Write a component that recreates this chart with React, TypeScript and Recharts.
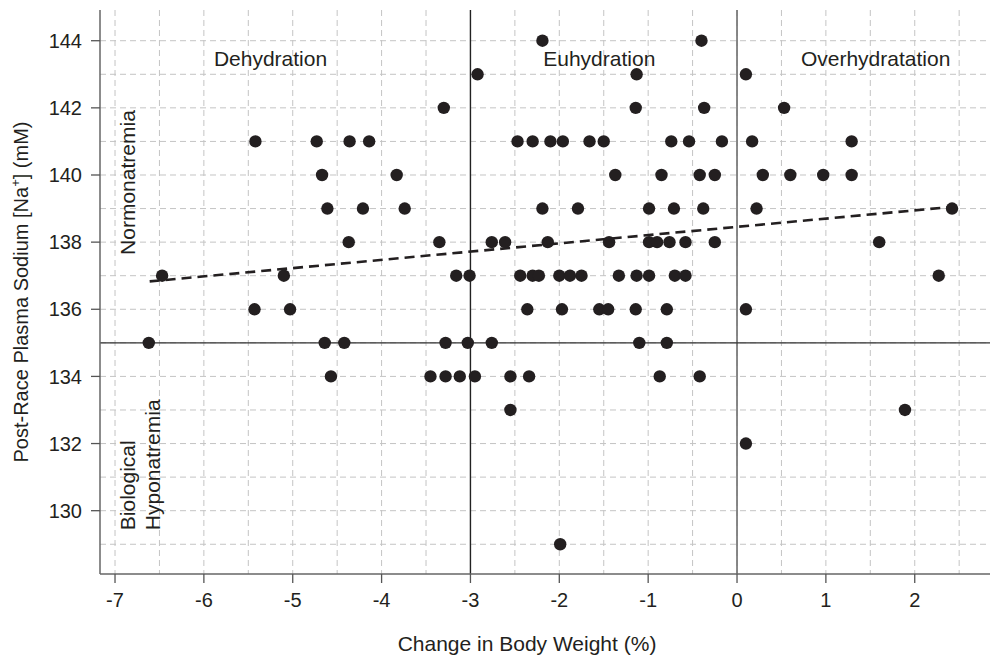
import {
  ScatterChart,
  Scatter,
  XAxis,
  YAxis,
  CartesianGrid,
  ReferenceLine,
  ReferenceDot,
} from "recharts";

// Change in body weight (%) and post-race plasma Na+ (mM), one entry per runner,
// grouped by sodium level
const weightChange = [
  -2.19, -0.4,
  -2.92, -1.13, 0.1,
  -3.3, -1.14, -0.37, 0.53,
  -5.42, -4.73, -4.36, -4.14, -2.47, -2.3, -2.1, -1.96, -1.66, -1.5, -0.74, -0.54, -0.17, 0.17, 1.29,
  -4.67, -3.83, -1.37, -0.85, -0.42, -0.25, 0.29, 0.6, 0.97, 1.29,
  -4.61, -4.21, -3.74, -2.19, -1.79, -0.99, -0.71, -0.38, 0.22, 2.42,
  -4.37, -3.35, -2.76, -2.61, -2.13, -1.44, -0.99, -0.9, -0.76, -0.58, -0.25, 1.6,
  -6.47, -5.1, -3.16, -3.01, -2.44, -2.3, -2.23, -2.0, -1.88, -1.75, -1.33, -1.13, -0.99, -0.7, -0.58, 2.27,
  -5.43, -5.03, -2.36, -1.97, -1.55, -1.45, -1.14, -0.79, 0.1,
  -6.62, -4.64, -4.42, -3.28, -3.03, -2.76, -1.1, -0.79,
  -4.57, -3.45, -3.28, -3.12, -2.95, -2.55, -2.34, -0.87, -0.42,
  -2.55, 1.89,
  0.1,
  -1.99,
];
const plasmaSodium = [
  144, 144,
  143, 143, 143,
  142, 142, 142, 142,
  141, 141, 141, 141, 141, 141, 141, 141, 141, 141, 141, 141, 141, 141, 141,
  140, 140, 140, 140, 140, 140, 140, 140, 140, 140,
  139, 139, 139, 139, 139, 139, 139, 139, 139, 139,
  138, 138, 138, 138, 138, 138, 138, 138, 138, 138, 138, 138,
  137, 137, 137, 137, 137, 137, 137, 137, 137, 137, 137, 137, 137, 137, 137, 137,
  136, 136, 136, 136, 136, 136, 136, 136, 136,
  135, 135, 135, 135, 135, 135, 135, 135,
  134, 134, 134, 134, 134, 134, 134, 134, 134,
  133, 133,
  132,
  129,
];

// regression line end points
const trendX = [-6.61, 2.42];
const trendY = [136.83, 139.05];

const xTicks = [-7, -6, -5, -4, -3, -2, -1, 0, 1, 2];
const yTicks = [130, 132, 134, 136, 138, 140, 142, 144];
const xGrid = [-7, -6.5, -6, -5.5, -5, -4.5, -4, -3.5, -3, -2.5, -2, -1.5, -1, -0.5, 0, 0.5, 1, 1.5, 2, 2.5];
const yGrid = [129, 130, 131, 132, 133, 134, 135, 136, 137, 138, 139, 140, 141, 142, 143, 144];

const INK = "#231f20";
const FONT = "'Liberation Sans', Arial, Helvetica, sans-serif";

const points = weightChange.map((x, i) => ({ x, y: plasmaSodium[i] }));

const flatText = (label: string) => (p: any) => (
  <text x={p.cx} y={p.cy} textAnchor="middle" fontSize={21} fill={INK} fontFamily={FONT}>
    {label}
  </text>
);

const upText = (label: string) => (p: any) => (
  <text
    x={p.cx}
    y={p.cy}
    transform={`rotate(-90 ${p.cx} ${p.cy})`}
    textAnchor="start"
    fontSize={21}
    fill={INK}
    fontFamily={FONT}
  >
    {label}
  </text>
);

export default function App() {
  return (
    <div style={{ position: "absolute", left: 0, top: 0, background: "#fff" }}>
      <ScatterChart
        width={990}
        height={657}
        margin={{ top: 10, right: 0, bottom: 0, left: 0 }}
        style={{ fontFamily: FONT }}
      >
        <CartesianGrid
          stroke="#c4c4c4"
          strokeDasharray="6 4"
          verticalValues={xGrid}
          horizontalValues={yGrid}
        />
        <XAxis
          xAxisId="top"
          orientation="top"
          type="number"
          domain={[-7.169, 2.847]}
          allowDataOverflow
          height={0}
          tick={false}
          tickLine={false}
          axisLine={{ stroke: "#333", strokeWidth: 1.3 }}
        />
        <XAxis
          dataKey="x"
          type="number"
          domain={[-7.169, 2.847]}
          allowDataOverflow
          ticks={xTicks}
          interval={0}
          height={83}
          tickSize={9}
          tickMargin={10}
          tick={{ fill: INK, fontSize: 20 }}
          tickLine={{ stroke: "#555", strokeWidth: 1.3 }}
          axisLine={{ stroke: "#666", strokeWidth: 1.5 }}
          label={{
            content: () => (
              <text x={527} y={651} textAnchor="middle" fontSize={21} fill={INK} fontFamily={FONT}>
                Change in Body Weight (%)
              </text>
            ),
          }}
        />
        <YAxis
          dataKey="y"
          type="number"
          domain={[128.114, 144.915]}
          allowDataOverflow
          ticks={yTicks}
          interval={0}
          width={100}
          tickSize={9}
          tickMargin={9}
          tick={{ fill: INK, fontSize: 20 }}
          tickLine={{ stroke: "#555", strokeWidth: 1.3 }}
          axisLine={{ stroke: "#666", strokeWidth: 1.5 }}
          label={{
            content: (props: any) => {
              const vb = props.viewBox || { y: 10, height: 564 };
              const cy = vb.y + vb.height / 2;
              return (
                <text
                  x={28}
                  y={cy}
                  transform={`rotate(-90 28 ${cy})`}
                  textAnchor="middle"
                  fontSize={20}
                  fill={INK}
                  fontFamily={FONT}
                >
                  Post-Race Plasma Sodium [Na
                  <tspan dy={-8} fontSize={13}>+</tspan>
                  <tspan dy={8}>] (mM)</tspan>
                </text>
              );
            },
          }}
        />
        <ReferenceLine x={-3} stroke="#222" strokeWidth={1.4} />
        <ReferenceLine x={0} stroke="#6e6e6e" strokeWidth={1.6} />
        <ReferenceLine y={135} stroke="#333" strokeWidth={1.4} />
        <ReferenceLine
          segment={[
            { x: trendX[0], y: trendY[0] },
            { x: trendX[1], y: trendY[1] },
          ]}
          stroke={INK}
          strokeWidth={2.6}
          strokeDasharray="10 6"
        />
        <Scatter
          data={points}
          isAnimationActive={false}
          shape={(p: any) => <circle cx={p.cx} cy={p.cy} r={6.2} fill={INK} />}
        />
        <ReferenceDot x={-5.25} y={143.26} r={0} shape={flatText("Dehydration")} />
        <ReferenceDot x={-1.55} y={143.26} r={0} shape={flatText("Euhydration")} />
        <ReferenceDot x={1.56} y={143.26} r={0} shape={flatText("Overhydratation")} />
        <ReferenceDot x={-6.775} y={137.62} r={0} shape={upText("Normonatremia")} />
        <ReferenceDot x={-6.775} y={129.42} r={0} shape={upText("Biological")} />
        <ReferenceDot x={-6.499} y={129.42} r={0} shape={upText("Hyponatremia")} />
      </ScatterChart>
    </div>
  );
}
